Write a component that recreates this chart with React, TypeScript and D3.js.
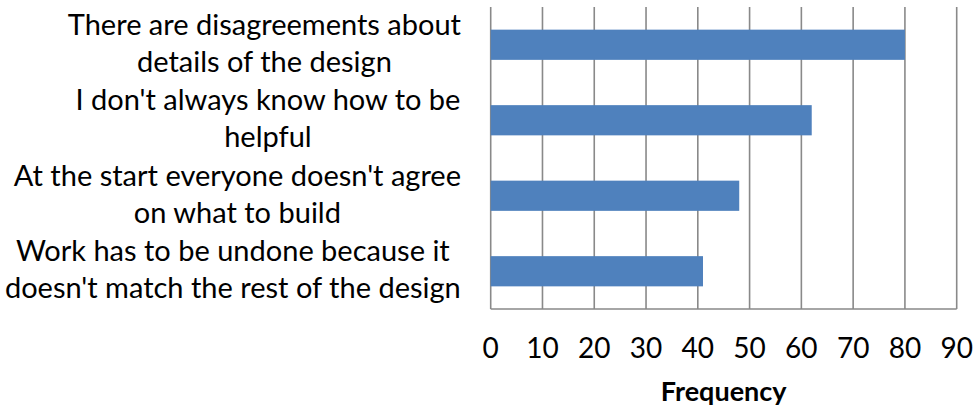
import React, { useMemo } from "react";
import * as d3 from "d3";

const categories: string[][] = [
  ["There are disagreements about", "details of the design"],
  ["I don't always know how to be", "helpful"],
  ["At the start everyone doesn't agree", "on what to build"],
  ["Work has to be undone because it", "doesn't match the rest of the design"],
];
const values: number[] = [80, 62, 48, 41];
const xTicks: number[] = [0, 10, 20, 30, 40, 50, 60, 70, 80, 90];
const xTitle = "Frequency";

const W = 975;
const H = 413;
const FONT = "Lato, 'Open Sans', sans-serif";
const LABEL_SIZE = 29;
const TICK_SIZE = 28;

export default function App() {
  const x = d3.scaleLinear().domain([0, 90]).range([490.7, 956.7]);
  const y = d3
    .scaleBand<number>()
    .domain(d3.range(categories.length))
    .range([7, 309])
    .paddingInner(0.6)
    .paddingOuter(0.3);

  const widths = useMemo(() => {
    const c = document.createElement("canvas").getContext("2d");
    if (!c) return categories.map(() => 400);
    c.font = `${LABEL_SIZE}px Lato`;
    return categories.map((lines) => d3.max(lines, (l) => c.measureText(l).width) || 0);
  }, []);

  const labelRight = 461;
  const grid = "#898989";

  return (
    <svg width={W} height={H} style={{ position: "absolute", left: 0, top: 0, background: "#fff" }}>
      {xTicks.map((t) => (
        <line key={t} x1={x(t)} x2={x(t)} y1={7} y2={309} stroke={grid} strokeWidth={1.6} />
      ))}
      <line x1={x(0)} x2={x(90)} y1={309} y2={309} stroke={grid} strokeWidth={1.6} />
      {values.map((v, i) => (
        <rect
          key={i}
          x={x(0)}
          y={y(i)!}
          width={x(v) - x(0)}
          height={y.bandwidth()}
          fill="#4f81bd"
        />
      ))}
      {xTicks.map((t) => (
        <text
          key={t}
          x={x(t)}
          y={358}
          textAnchor="middle"
          fontFamily={FONT}
          fontSize={TICK_SIZE}
          fill="#000"
        >
          {t}
        </text>
      ))}
      {categories.map((lines, i) => {
        const cy = y(i)! + y.bandwidth() / 2;
        const cx = labelRight - widths[i] / 2;
        return (
          <text key={i} textAnchor="middle" fontFamily={FONT} fontSize={LABEL_SIZE} fill="#000">
            {lines.map((l, j) => (
              <tspan key={j} x={cx} y={cy - 10 + j * 37}>
                {l}
              </tspan>
            ))}
          </text>
        );
      })}
      <text
        x={(x(0) + x(90)) / 2}
        y={401}
        textAnchor="middle"
        fontFamily={FONT}
        fontWeight="bold"
        fontSize={27}
        fill="#000"
      >
        {xTitle}
      </text>
    </svg>
  );
}
